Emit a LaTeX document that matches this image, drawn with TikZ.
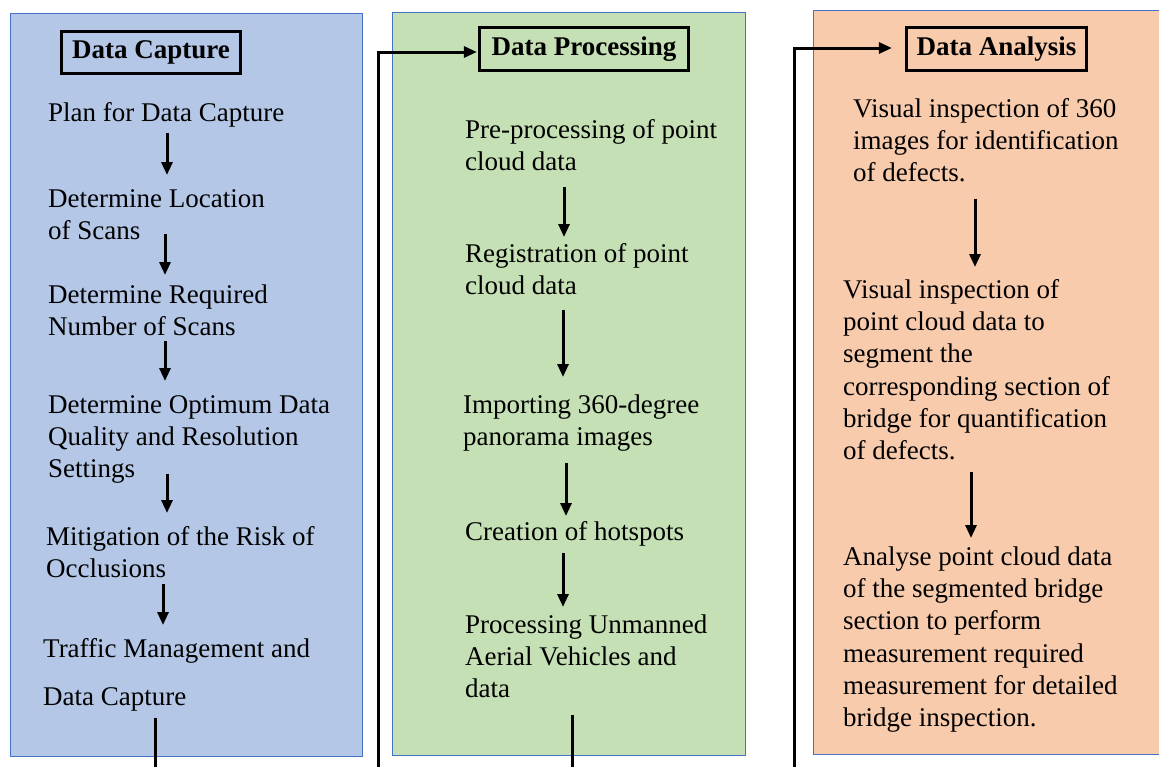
\documentclass[tikz,border=0pt]{standalone}
\usepackage{fontspec}
\setmainfont{Liberation Serif}
\usetikzlibrary{arrows.meta}

\definecolor{capblue}{HTML}{B4C7E7}
\definecolor{procgreen}{HTML}{C5E0B4}
\definecolor{anaorange}{HTML}{F8CBAD}
\definecolor{edgeblue}{HTML}{4472C4}

\begin{document}
\fontsize{27}{32.3}\selectfont
\begin{tikzpicture}[x=1pt,y=-1pt,
  panel/.style={draw=edgeblue,line width=0.8pt},
  head/.style={draw,line width=3.2pt,font=\bfseries,inner sep=0pt},
  stage/.style={anchor=north west,align=left,inner sep=0pt},
  flow/.style={line width=3pt,-{Triangle[length=13pt,width=11pt]}},
  link/.style={line width=3pt}]
\useasboundingbox (0,0) rectangle (1159,766);

%panels
\draw[panel,fill=capblue] (10,13) rectangle (362,756);
\draw[panel,fill=procgreen] (392,12) rectangle (745,755);
\draw[panel,fill=anaorange] (813,10) rectangle (1175,754);

%headers
\node[head,minimum width=179pt,minimum height=42pt] (caphead) at (151,52.5) {Data Capture};
\node[head,minimum width=209pt,minimum height=43pt] (prochead) at (584,49) {Data Processing};
\node[head,minimum width=180pt,minimum height=43pt] (anahead) at (996.5,49) {Data Analysis};

%data capture
\node[stage] (plan) at (48,98.4) {\strut Plan for Data Capture\strut};
\node[stage] (loc) at (48,184.4) {\strut Determine Location\\of Scans\strut};
\node[stage] (req) at (48,280.4) {\strut Determine Required\\Number of Scans\strut};
\node[stage] (opt) at (48,390.4) {\strut Determine Optimum Data\\Quality and Resolution\\Settings\strut};
\node[stage] (mit) at (46,522.4) {\strut Mitigation of the Risk of\\Occlusions\strut};
\node[stage] (traf) at (43,634.4) {\strut Traffic Management and\\[15.7pt]Data Capture\strut};

\draw[flow] ([xshift=119pt,yshift=-2pt]plan.south west) -- ([xshift=119pt,yshift=9.4pt]loc.north west);
\draw[flow] ([xshift=117pt,yshift=15pt]loc.south west) -- ([xshift=117pt,yshift=5.4pt]req.north west);
\draw[flow] ([xshift=117pt,yshift=4pt]req.south west) -- ([xshift=117pt,yshift=9.4pt]opt.north west);
\draw[flow] ([xshift=119pt,yshift=14pt]opt.south west) -- ([xshift=121pt,yshift=9.4pt]mit.north west);
\draw[flow] ([xshift=117pt,yshift=3pt]mit.south west) -- ([xshift=120pt,yshift=9.4pt]traf.north west);

%data processing
\node[stage] (pre) at (465,115.4) {\strut Pre-processing of point\\cloud data\strut};
\node[stage] (reg) at (465,239.4) {\strut Registration of point\\cloud data\strut};
\node[stage] (imp) at (463,390.4) {\strut Importing 360-degree\\panorama images\strut};
\node[stage] (hot) at (465,517.4) {\strut Creation of hotspots\strut};
\node[stage] (uav) at (465,610.4) {\strut Processing Unmanned\\Aerial Vehicles and\\data\strut};

\draw[flow] ([xshift=99pt,yshift=-7pt]pre.south west) -- ([xshift=99pt,yshift=2.4pt]reg.north west);
\draw[flow] ([xshift=98pt,yshift=-6pt]reg.south west) -- ([xshift=100pt,yshift=13.4pt]imp.north west);
\draw[flow] ([xshift=103pt,yshift=-8pt]imp.south west) -- ([xshift=101pt,yshift=1.4pt]hot.north west);
\draw[flow] ([xshift=98pt,yshift=-3pt]hot.south west) -- ([xshift=98pt,yshift=3.4pt]uav.north west);

%data analysis
\node[stage] (vis) at (853,94.4) {\strut Visual inspection of 360\\images for identification\\of defects.\strut};
\node[stage] (seg) at (843,275.4) {\strut Visual inspection of\\point cloud data to\\segment the\\corresponding section of\\bridge for quantification\\of defects.\strut};
\node[stage] (ana) at (843,542.4) {\strut Analyse point cloud data\\of the segmented bridge\\section to perform\\measurement required\\measurement for detailed\\bridge inspection.\strut};

\draw[flow] ([xshift=122pt,yshift=-7pt]vis.south west) -- ([xshift=132pt,yshift=8.4pt]seg.north west);
\draw[flow] ([xshift=128pt,yshift=-2pt]seg.south west) -- ([xshift=128pt,yshift=4.4pt]ana.north west);

%links between stages (run off the bottom)
\coordinate (capout) at (155,770);
\coordinate (procin) at (378,770);
\coordinate (procout) at (572,770);
\coordinate (anain) at (794,770);
\draw[link] ([xshift=112pt,yshift=-3pt]traf.south west) -- (capout);
\draw[link] ([xshift=107pt,yshift=-7pt]uav.south west) -- (procout);
\draw[flow,shorten >=1pt] (procin) |- ([yshift=-3pt]prochead.west);
\draw[flow,shorten >=13pt] (anain) |- ([yshift=1pt]anahead.west);

\end{tikzpicture}
\end{document}
